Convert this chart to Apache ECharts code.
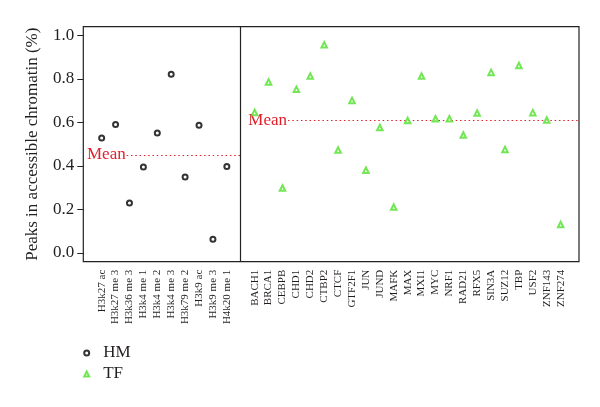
<!DOCTYPE html>
<html>
<head>
<meta charset="utf-8">
<script src="https://cdn.jsdelivr.net/npm/echarts@6/dist/echarts.min.js"></script>
<style>html,body{margin:0;padding:0;background:#fff}#c{width:600px;height:407px}</style>
</head>
<body>
<div id="c"></div>
<script>
var hmLabels = ['H3k27 ac','H3k27 me 3','H3k36 me 3','H3k4 me 1','H3k4 me 2','H3k4 me 3','H3k79 me 2','H3k9 ac','H3k9 me 3','H4k20 me 1'];
var hmValues = [0.528,0.591,0.230,0.395,0.551,0.822,0.349,0.587,0.063,0.397];
var tfLabels = ['BACH1','BRCA1','CEBPB','CHD1','CHD2','CTBP2','CTCF','GTF2F1','JUN','JUND','MAFK','MAX','MXI1','MYC','NRF1','RAD21','RFX5','SIN3A','SUZ12','TBP','USF2','ZNF143','ZNF274'];
var tfValues = [0.646,0.786,0.299,0.752,0.813,0.957,0.473,0.701,0.380,0.577,0.211,0.609,0.813,0.617,0.617,0.542,0.643,0.830,0.476,0.862,0.645,0.611,0.131];
var yTicks = [0,0.2,0.4,0.6,0.8,1.0];

var gapIndex = hmLabels.length;           // empty slot holding the divider
var tfStart = gapIndex + 1;
var labelAt = {};
var xTicks = [];
hmLabels.forEach(function(l,i){ labelAt[i]=l; xTicks.push(i); });
tfLabels.forEach(function(l,i){ labelAt[tfStart+i]=l; xTicks.push(tfStart+i); });
var nSlots = tfStart + tfLabels.length;   // 34
var pad = (nSlots - 1) * 0.04;
var xMin = -pad, xMax = nSlots - 1 + pad;

function mean(a){ return a.reduce(function(s,v){return s+v;},0)/a.length; }
var hmMean = mean(hmValues), tfMean = mean(tfValues);

var hmData = hmValues.map(function(v,i){ return [i, v]; });
var tfData = tfValues.map(function(v,i){ return [tfStart+i, v]; });

var serif = 'Liberation Serif';
var red = '#e2202c';
var green = '#4fe02a';

var chart = echarts.init(document.getElementById('c'), null, {renderer:'canvas'});
chart.setOption({
  animation: false,
  backgroundColor: '#fff',
  textStyle: { fontFamily: serif },
  grid: { left: 83.3, right: 21, top: 26.7, bottom: 145.3, show: true, borderColor: '#222', borderWidth: 1.2, backgroundColor: 'transparent' },
  xAxis: {
    type: 'value', min: xMin, max: xMax,
    axisLine: { show: false, onZero: false }, axisTick: { show: false }, splitLine: { show: false },
    axisLabel: {
      customValues: xTicks, rotate: 90, margin: 8,
      fontFamily: serif, fontSize: 11, color: '#231f20',
      formatter: function(v){ return labelAt[Math.round(v)] || ''; }
    }
  },
  yAxis: {
    type: 'value', min: -0.04, max: 1.04,
    name: 'Peaks in accessible chromatin (%)', nameLocation: 'middle', nameGap: 42,
    nameTextStyle: { fontFamily: serif, fontSize: 17, color: '#231f20' },
    axisLine: { show: false, onZero: false }, splitLine: { show: false },
    axisTick: { show: true, customValues: yTicks, length: 6, lineStyle: { color: '#222', width: 1 } },
    axisLabel: { customValues: yTicks, margin: 9, fontFamily: serif, fontSize: 17, color: '#231f20',
      formatter: function(v){ return v.toFixed(1); } }
  },
  legend: {
    orient: 'vertical', left: 83.2, top: 344.5, padding: 0, itemWidth: 5, itemHeight: 5, itemGap: 4,
    textStyle: { fontFamily: serif, fontSize: 17, color: '#231f20', padding: [0,0,0,9] },
    data: [{ name: 'HM', icon: 'emptyCircle' }, { name: 'TF', icon: 'emptyTriangle' }]
  },
  series: [
    {
      name: 'HM', type: 'scatter', data: hmData, symbol: 'emptyCircle', symbolSize: 5, z: 5,
      itemStyle: { color: '#000', borderColor: '#000', borderWidth: 1.2 },
      markLine: {
        silent: true, symbol: ['none','none'], animation: false, z: 2,
        data: [
          [{ coord: [1.8, hmMean], lineStyle: { color: red, type: [1.5,2.8], width: 1.2 },
             label: { show: true, position: 'start', formatter: 'Mean', color: red, fontFamily: serif, fontSize: 17, distance: 1 } },
           { coord: [gapIndex, hmMean] }],
          { xAxis: gapIndex, lineStyle: { color: '#222', type: 'solid', width: 1.2 }, label: { show: false } }
        ]
      }
    },
    {
      name: 'TF', type: 'scatter', data: tfData, symbol: 'emptyTriangle', symbolSize: 5.5, z: 5,
      itemStyle: { color: green, borderColor: green, borderWidth: 1.2 },
      markLine: {
        silent: true, symbol: ['none','none'], animation: false, z: 2,
        data: [
          [{ coord: [13.4, tfMean], lineStyle: { color: red, type: [1.5,2.8], width: 1.2 },
             label: { show: true, position: 'start', formatter: 'Mean', color: red, fontFamily: serif, fontSize: 17, distance: 1 } },
           { coord: [xMax, tfMean] }]
        ]
      }
    }
  ]
});
</script>
</body>
</html>
